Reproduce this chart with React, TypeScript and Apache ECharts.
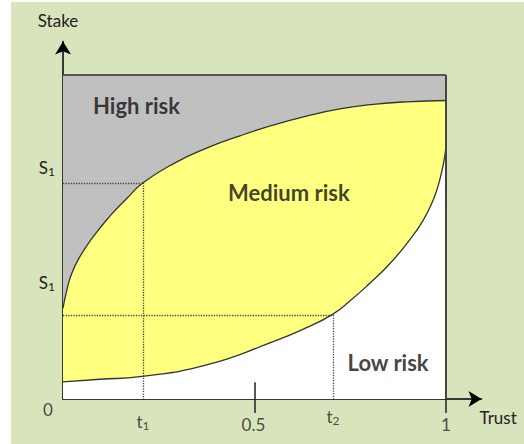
import React, { useEffect, useRef } from "react";
import * as echarts from "echarts";

// Key trust / stake levels
const T1 = 0.209;
const T2 = 0.705;
const S_UPPER = 0.667;
const S_LOWER = 0.259;

// Upper boundary (High risk / Medium risk)
const upperX = [0, 0.01, 0.023, 0.044, 0.079, 0.123, 0.166, 0.209, 0.29, 0.375, 0.462, 0.548, 0.636, 0.723, 0.81, 0.897, 1.0];
const upperY = [0.28, 0.336, 0.388, 0.439, 0.501, 0.565, 0.618, 0.667, 0.727, 0.774, 0.812, 0.845, 0.873, 0.895, 0.909, 0.917, 0.921];

// Lower boundary (Medium risk / Low risk)
const lowerX = [0, 0.097, 0.201, 0.375, 0.549, 0.636, 0.705, 0.749, 0.802, 0.854, 0.906, 0.941, 0.967, 0.984, 0.997, 1.0];
const lowerY = [0.053, 0.061, 0.069, 0.105, 0.177, 0.22, 0.262, 0.302, 0.358, 0.418, 0.492, 0.552, 0.614, 0.676, 0.748, 0.79];

// Tick labels (rich text: b = base, s = subscript)
const xTickValues = [0, T1, 0.5, T2, 1];
const xTickTexts = ["{b|0}", "{b|t}{s|1}", "{b|0.5}", "{b|t}{s|2}", "{b|1}"];
const yTickValues = [0.713, 0.358];
const yTickTexts = ["{b|S}{s|1}", "{b|S}{s|1}"];

// Region labels
const regionNames = ["High risk", "Medium risk", "Low risk"];
const regionX = [0.192, 0.59, 0.849];
const regionY = [0.907, 0.636, 0.114];

const FONT = "Lato, 'Open Sans', sans-serif";

export default function App() {
  const ref = useRef<HTMLDivElement>(null);
  useEffect(() => {
    if (!ref.current) return;
    const chart = echarts.init(ref.current, null, { renderer: "svg" });
    const zip = (xs: number[], ys: number[]) => xs.map((x, i) => [x, ys[i]]);
    const rich = {
      b: { fontSize: 17, fontFamily: FONT, color: "#222" },
      s: { fontSize: 12, fontFamily: FONT, color: "#222", padding: [8, 0, 0, 0] },
    };
    // per-label pixel offsets from the tick point on the x axis
    const xLabelOffsets = [
      [-15, 10],
      [0, 22],
      [-1, 25],
      [0, 17],
      [0, 25],
    ];
    const option: any = {
      animation: false,
      backgroundColor: "#ffffff",
      graphic: [
        {
          type: "rect",
          shape: { x: 11, y: 2, width: 513, height: 442 },
          style: { fill: "#D8E4BC" },
          z: -10,
          silent: true,
        },
      ],
      grid: { left: 63, right: 42.5, top: 41.5, bottom: 45, show: false },
      xAxis: {
        type: "value",
        min: 0,
        max: 1.093,
        name: "Trust",
        nameLocation: "end",
        nameGap: -2,
        nameTextStyle: {
          fontFamily: FONT,
          fontSize: 17,
          color: "#222",
          align: "left",
          verticalAlign: "top",
          padding: [10, 0, 0, 0],
        },
        splitLine: { show: false },
        axisLine: {
          show: true,
          onZero: false,
          symbol: ["none", "arrow"],
          symbolSize: [12, 13],
          lineStyle: { color: "#000", width: 1.5 },
        },
        axisTick: {
          show: true,
          customValues: [0.5, 1],
          length: 14,
          lineStyle: { color: "#222", width: 1.5 },
        },
        axisLabel: { show: false },
      },
      yAxis: {
        type: "value",
        min: 0,
        max: 1.103,
        name: "Stake",
        nameLocation: "end",
        nameGap: 13,
        nameTextStyle: {
          fontFamily: FONT,
          fontSize: 17,
          color: "#222",
          padding: [0, 10, 0, 0],
        },
        splitLine: { show: false },
        axisLine: {
          show: true,
          onZero: false,
          symbol: ["none", "arrow"],
          symbolSize: [12, 13],
          lineStyle: { color: "#000", width: 1.5 },
        },
        axisTick: { show: false },
        axisLabel: {
          show: true,
          customValues: yTickValues,
          margin: 8,
          formatter: (v: number) => {
            let idx = 0;
            yTickValues.forEach((tv, i) => {
              if (Math.abs(tv - v) < Math.abs(yTickValues[idx] - v)) idx = i;
            });
            return yTickTexts[idx];
          },
          rich,
        },
      },
      series: [
        {
          name: "box",
          type: "line",
          z: 1,
          data: [
            [0, 1],
            [1, 1],
          ],
          symbol: "none",
          lineStyle: { color: "#555", width: 2 },
          areaStyle: { color: "#C0C0C0", opacity: 1, origin: "start" },
          silent: true,
        },
        {
          name: "upper",
          type: "line",
          z: 2,
          data: zip(upperX, upperY),
          smooth: 0.5,
          symbol: "none",
          lineStyle: { color: "#333", width: 1.3 },
          areaStyle: { color: "#FFFF80", opacity: 1, origin: "start" },
          silent: true,
        },
        {
          name: "lower",
          type: "line",
          z: 3,
          data: zip(lowerX, lowerY),
          smooth: 0.5,
          symbol: "none",
          lineStyle: { color: "#333", width: 1.3 },
          areaStyle: { color: "#FFFFFF", opacity: 1, origin: "start" },
          silent: true,
        },
        {
          name: "guides",
          type: "line",
          z: 4,
          data: [],
          symbol: "none",
          silent: true,
          markLine: {
            silent: true,
            symbol: ["none", "none"],
            label: { show: false },
            lineStyle: { color: "#444", type: "dotted", width: 1.3 },
            data: [
              [{ coord: [0, S_UPPER] }, { coord: [T1, S_UPPER] }],
              [{ coord: [T1, S_UPPER] }, { coord: [T1, 0] }],
              [{ coord: [0, S_LOWER] }, { coord: [T2, S_LOWER] }],
              [{ coord: [T2, S_LOWER] }, { coord: [T2, 0] }],
            ],
          },
        },
        {
          name: "frame",
          type: "line",
          z: 5,
          data: [],
          symbol: "none",
          silent: true,
          markLine: {
            silent: true,
            symbol: ["none", "none"],
            label: { show: false },
            data: [
              [
                { coord: [1, 0], lineStyle: { color: "#444", width: 2, type: "solid" } },
                { coord: [1, 1] },
              ],
              [
                { coord: [0.5, 0], lineStyle: { color: "#222", width: 1.5, type: "solid" } },
                { coord: [0.5, 0.052] },
              ],
            ],
          },
        },
        {
          name: "regions",
          type: "scatter",
          z: 6,
          symbolSize: 0,
          silent: true,
          data: regionNames.map((n, i) => ({ name: n, value: [regionX[i], regionY[i]] })),
          label: {
            show: true,
            position: "inside",
            formatter: "{b}",
            fontFamily: FONT,
            fontWeight: "bold",
            fontSize: 22,
            color: "#111",
          },
        },
        {
          name: "xTickLabels",
          type: "scatter",
          z: 6,
          symbolSize: 0,
          silent: true,
          clip: false,
          data: xTickValues.map((v, i) => ({
            value: [v, 0],
            label: { formatter: xTickTexts[i], offset: xLabelOffsets[i] },
          })),
          label: {
            show: true,
            position: "inside",
            rich,
          },
        },
      ],
    };
    chart.setOption(option);
    return () => chart.dispose();
  }, []);
  return (
    <div
      ref={ref}
      style={{ position: "fixed", left: 0, top: 0, width: 524, height: 444 }}
    />
  );
}
